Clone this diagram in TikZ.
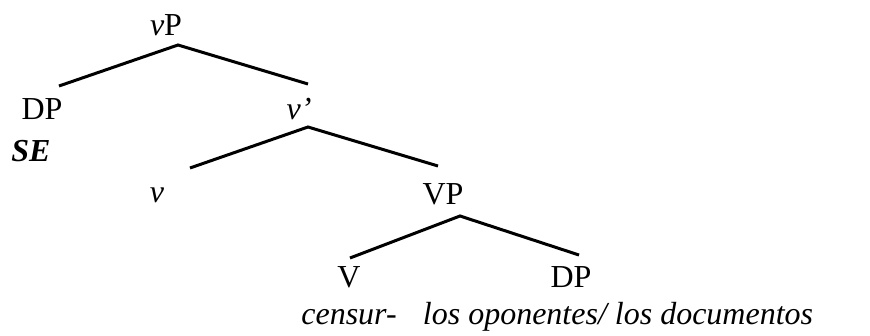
\documentclass[tikz,border=0pt]{standalone}
\usepackage{fontspec}
\setmainfont{Liberation Serif}
\begin{document}
\begin{tikzpicture}[x=1pt,y=-1pt,
  lab/.style={anchor=base,inner sep=0pt,font=\fontsize{32}{38}\selectfont},
  branch/.style={line width=3pt}]
\useasboundingbox (0,0) rectangle (870,336);
% labels
\node[lab] (vP) at (166,36) {\textit{v}P};
\node[lab] (DP1) at (42,120) {DP};
\node[lab] (SE) at (31,162) {\textbf{\textit{SE}}};
\node[lab] (vbar) at (299,120) {\textit{v’}};
\node[lab] (v) at (157,203) {\textit{v}};
\node[lab] (VP) at (443,205) {VP};
\node[lab] (V) at (349,288) {V};
\node[lab] (DP2) at (571,288) {DP};
\node[lab] (cens) at (349,325) {\textit{censur-}};
\node[lab] (los) at (618,325) {\textit{los oponentes/ los documentos}};
% branch points
\coordinate (a1) at (178,45);
\coordinate (l1) at (59,86);
\coordinate (r1) at (308,84);
\coordinate (a2) at (308,127);
\coordinate (l2) at (190,168);
\coordinate (r2) at (438,166);
\coordinate (a3) at (460,216);
\coordinate (l3) at (350,258);
\coordinate (r3) at (579,255);
\draw[branch] (l1) -- (a1) -- (r1);
\draw[branch] (l2) -- (a2) -- (r2);
\draw[branch] (l3) -- (a3) -- (r3);
\end{tikzpicture}
\end{document}
